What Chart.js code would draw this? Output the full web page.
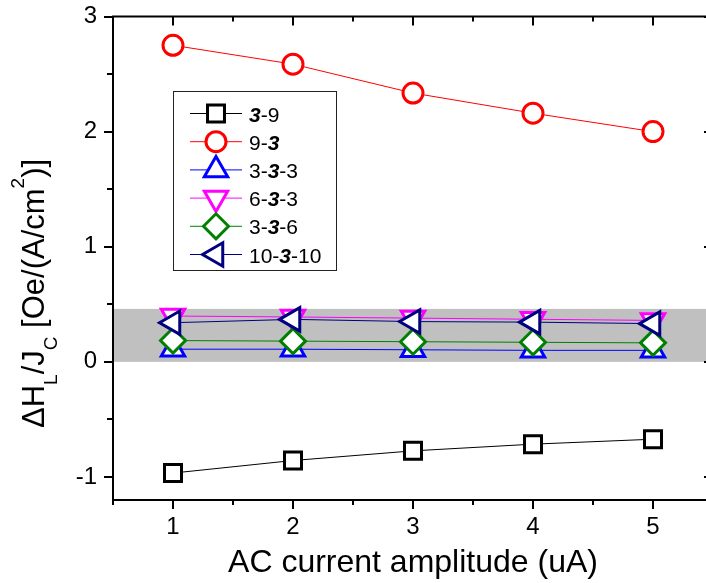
<!DOCTYPE html>
<html>
<head>
<meta charset="utf-8">
<script src="https://cdn.jsdelivr.net/npm/chart.js@4/dist/chart.umd.min.js"></script>
<style>
  html, body { margin: 0; padding: 0; background: #fff; }
  #wrap { width: 706px; height: 583px; overflow: hidden; }
</style>
</head>
<body>
<div id="wrap"><canvas id="chart" width="713" height="583" style="width:713px;height:583px"></canvas></div>
<script>
// values
var amplitudes = [1, 2, 3, 4, 5];
var s3_9    = [-0.966, -0.857, -0.773, -0.715, -0.672];
var s9_3    = [2.75, 2.586, 2.335, 2.16, 2.0];
var s3_3_3  = [0.11, 0.11, 0.105, 0.10, 0.10];
var s6_3_3  = [0.398, 0.39, 0.38, 0.37, 0.36];
var s3_3_6  = [0.185, 0.18, 0.175, 0.17, 0.165];
var s10_3_10 = [0.34, 0.369, 0.35, 0.345, 0.332];
var seriesNames = ['3-9', '9-3', '3-3-3', '6-3-3', '3-3-6', '10-3-10'];
var xTicks = [1, 2, 3, 4, 5];
var yTicks = [-1, 0, 1, 2, 3];
var bandRange = [0, 0.46];

var FONT = "'Liberation Sans', Arial, sans-serif";

var styles = [
  {color: '#000000', style: 'rect', rot: 0, r: 12},
  {color: '#ff0000', style: 'circle', rot: 0, r: 10},
  {color: '#0000ff', style: 'triangle', rot: 0, r: 13.5},
  {color: '#ff00ff', style: 'triangle', rot: 180, r: 13.5},
  {color: '#008000', style: 'rectRot', rot: 0, r: 12.5},
  {color: '#000080', style: 'triangle', rot: -90, r: 13.5}
];
var allSeries = [s3_9, s9_3, s3_3_3, s6_3_3, s3_3_6, s10_3_10];

function toPoints(ys) {
  return amplitudes.map(function (a, i) { return {x: a, y: ys[i]}; });
}

var datasets = allSeries.map(function (ys, i) {
  var st = styles[i];
  return {
    label: seriesNames[i],
    data: toPoints(ys),
    borderColor: st.color,
    borderWidth: 1,
    pointStyle: st.style,
    pointRotation: st.rot,
    pointRadius: st.r,
    pointHoverRadius: st.r,
    pointBorderWidth: 3,
    pointBorderColor: st.color,
    pointBackgroundColor: '#ffffff',
    fill: false,
    order: allSeries.length - i
  };
});

// stretch the plot to the full canvas width (right side is cut off by the window)
var stretchPlugin = {
  id: 'stretch',
  afterLayout: function (chart) {
    var a = chart.chartArea, x = chart.scales.x;
    var w = chart.canvas.width;
    a.right = w; a.width = w - a.left;
    x.right = w; x.width = w - x.left;
    x.configure();
  }
};

// grey band behind the data
var bandPlugin = {
  id: 'band',
  beforeDatasetsDraw: function (chart) {
    var ctx = chart.ctx, a = chart.chartArea, y = chart.scales.y;
    var y0 = y.getPixelForValue(bandRange[0]);
    var y1 = y.getPixelForValue(bandRange[1]);
    ctx.save();
    ctx.fillStyle = '#c0c0c0';
    ctx.fillRect(a.left + 1, y1, a.right - a.left, y0 - y1);
    ctx.restore();
  }
};

// frame: top/right axis lines and all tick marks (major + minor)
var framePlugin = {
  id: 'frame',
  afterDatasetsDraw: function (chart) {
    var ctx = chart.ctx, a = chart.chartArea, x = chart.scales.x, y = chart.scales.y;
    ctx.save();
    ctx.strokeStyle = '#000';
    ctx.lineWidth = 2;
    ctx.beginPath();
    ctx.moveTo(a.left - 1, a.top);
    ctx.lineTo(a.right, a.top);
    ctx.moveTo(a.right, a.top);
    ctx.lineTo(a.right, a.bottom);
    ctx.moveTo(a.left, a.bottom);
    ctx.lineTo(a.right, a.bottom);
    ctx.stroke();
    ctx.beginPath();
    for (var v = 0.5; v <= 5.51; v += 0.5) {
      var px = Math.round(x.getPixelForValue(v));
      var len = (v % 1 === 0) ? 9 : 5;
      ctx.moveTo(px, a.bottom); ctx.lineTo(px, a.bottom + len);
      ctx.moveTo(px, a.top); ctx.lineTo(px, a.top + len);
    }
    for (var w = -1; w <= 3.01; w += 0.5) {
      var py = Math.round(y.getPixelForValue(w));
      var l2 = (w % 1 === 0) ? 9 : 6;
      ctx.moveTo(a.left, py); ctx.lineTo(a.left - l2, py);
      ctx.moveTo(a.right, py); ctx.lineTo(a.right - l2, py);
    }
    ctx.stroke();
    ctx.restore();
  }
};

function drawPieces(ctx, pieces, x, y) {
  pieces.forEach(function (p) {
    ctx.font = p.font;
    ctx.fillText(p.text, x, y + (p.dy || 0));
    x += ctx.measureText(p.text).width;
  });
  return x;
}

// legend with bold-italic middle "3"
var legendPlugin = {
  id: 'customLegend',
  afterDraw: function (chart) {
    var ctx = chart.ctx;
    ctx.save();
    ctx.strokeStyle = '#222';
    ctx.lineWidth = 1;
    ctx.strokeRect(173.5, 91.5, 163, 179);
    var normal = '21px ' + FONT, bold = 'italic bold 21px ' + FONT;
    seriesNames.forEach(function (name, i) {
      var cy = 113.5 + i * 28.2;
      var st = styles[i];
      ctx.strokeStyle = st.color;
      ctx.lineWidth = 1;
      ctx.beginPath();
      ctx.moveTo(190, cy); ctx.lineTo(242, cy);
      ctx.stroke();
      ctx.fillStyle = '#fff';
      ctx.lineWidth = 3;
      Chart.helpers.drawPoint(ctx, {pointStyle: st.style, rotation: st.rot, radius: st.r, borderWidth: 3}, 216, cy);
      var toks = name.split('-');
      var bi = toks.length === 3 ? 1 : toks.indexOf('3');
      var pieces = [];
      toks.forEach(function (t, k) {
        if (k > 0) pieces.push({text: '-', font: normal});
        pieces.push({text: t, font: k === bi ? bold : normal});
      });
      ctx.fillStyle = '#000';
      ctx.textBaseline = 'alphabetic';
      drawPieces(ctx, pieces, 249, cy + 8);
    });
    ctx.restore();
  }
};

// rotated y title with sub/superscripts
var yTitlePlugin = {
  id: 'yTitle',
  afterDraw: function (chart) {
    var ctx = chart.ctx;
    var big = '31px ' + FONT, small = '19px ' + FONT;
    ctx.save();
    ctx.translate(44, 428);
    ctx.rotate(-Math.PI / 2);
    ctx.fillStyle = '#000';
    ctx.textBaseline = 'alphabetic';
    drawPieces(ctx, [
      {text: '\u0394H', font: big},
      {text: 'L', font: small, dy: 13},
      {text: '/J', font: big},
      {text: 'C', font: small, dy: 13},
      {text: ' [Oe/(A/cm', font: big},
      {text: '2', font: small, dy: -20},
      {text: ')]', font: big}
    ], 0, 0);
    ctx.restore();
  }
};

function noPad(s) {
  s.paddingTop = 0; s.paddingBottom = 0; s.paddingLeft = 0; s.paddingRight = 0;
}

var ctx = document.getElementById('chart');
new Chart(ctx, {
  type: 'line',
  data: {datasets: datasets},
  plugins: [stretchPlugin, bandPlugin, framePlugin, legendPlugin, yTitlePlugin],
  options: {
    responsive: false,
    animation: false,
    devicePixelRatio: 1,
    layout: {padding: {top: 15, right: 0, left: 0, bottom: 0}},
    plugins: {legend: {display: false}, tooltip: {enabled: false}},
    scales: {
      x: {
        type: 'linear',
        position: 'bottom',
        min: 0.5,
        max: 5.5,
        afterBuildTicks: function (s) { s.ticks = xTicks.map(function (v) { return {value: v}; }); },
        afterFit: function (s) { s.height = 83; noPad(s); },
        grid: {drawOnChartArea: false, tickLength: 9, tickColor: 'rgba(0,0,0,0)'},
        border: {display: false},
        ticks: {color: '#000', font: {family: FONT, size: 24}, padding: 4, maxRotation: 0},
        title: {display: true, text: 'AC current amplitude (uA)', color: '#000',
                font: {family: FONT, size: 32}, padding: {top: 0, bottom: 1}}
      },
      y: {
        type: 'linear',
        min: -1.2,
        max: 3,
        afterBuildTicks: function (s) { s.ticks = yTicks.map(function (v) { return {value: v}; }); },
        afterFit: function (s) { s.width = 113; noPad(s); },
        grid: {drawOnChartArea: false, tickLength: 9, tickColor: 'rgba(0,0,0,0)'},
        border: {display: true, color: '#000', width: 2},
        ticks: {color: '#000', font: {family: FONT, size: 24}, padding: 7}
      }
    }
  }
});
</script>
</body>
</html>
